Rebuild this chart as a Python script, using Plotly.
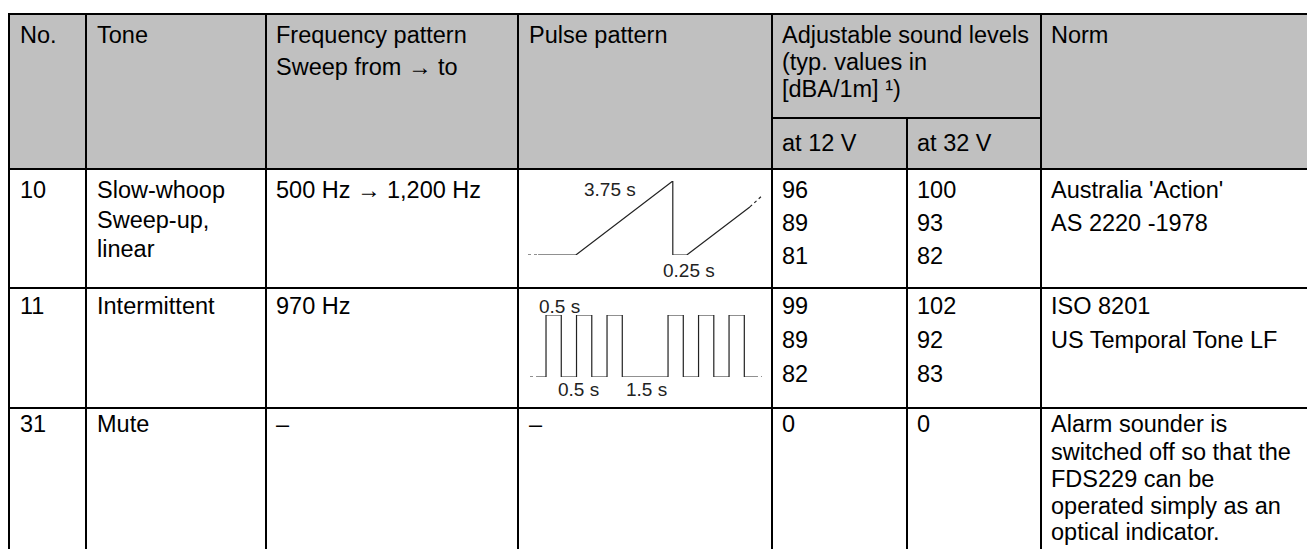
import plotly.graph_objects as go

# ---------------- data ----------------
header_cols = ["No.", "Tone", "Frequency pattern", "Pulse pattern",
               "Adjustable sound levels", "Norm"]
header_col2_line2 = "Sweep from \u2192 to"
header_col4_lines = ["(typ. values in", "[dBA/1m] \u00b9)"]
sub_headers = ["at 12 V", "at 32 V"]

tone_nos = ["10", "11", "31"]
tone_names = [["Slow-whoop", "Sweep-up,", "linear"], ["Intermittent"], ["Mute"]]
freq_patterns = ["500 Hz \u2192 1,200 Hz", "970 Hz", "\u2013"]
pulse_text = ["", "", "\u2013"]
levels_12v = [["96", "89", "81"], ["99", "89", "82"], ["0"]]
levels_32v = [["100", "93", "82"], ["102", "92", "83"], ["0"]]
norms = [["Australia 'Action'", "AS 2220 -1978"],
         ["ISO 8201", "US Temporal Tone LF"],
         ["Alarm sounder is", "switched off so that the", "FDS229 can be",
          "operated simply as an", "optical indicator."]]

# slow-whoop schematic (drawing units, normalised level)
sweep_lead_t = [0.0, 0.39]
sweep_t = [0.39, 1.85, 5.60, 5.60, 6.14, 8.58]
sweep_lvl = [0.0, 0.0, 1.0, 0.0, 0.0, 0.65]
sweep_tail_t = [8.58, 9.05]
sweep_tail_lvl = [0.65, 0.80]
sweep_labels = ["3.75 s", "0.25 s"]

# intermittent (ISO 8201 temporal) pattern, seconds: on/off durations
temporal_durations = [0.5, 0.5, 0.5, 0.5, 0.5, 1.5, 0.5, 0.5, 0.5, 0.5, 0.5]
temporal_labels = ["0.5 s", "0.5 s", "1.5 s"]

# ---------------- layout geometry (pixels) ----------------
W, H = 1307, 549
col_x = [9, 86, 266, 518, 772, 907, 1041]
top_y, sub_y, head_y = 14, 118, 169
row_y = [169, 288, 408]
FONT = "Liberation Sans, Arial, sans-serif"
BLACK = "#000000"
GREY = "#c0c0c0"
FS = 23.5

fig = go.Figure()

shapes = []
shapes.append(dict(type="rect", xref="x", yref="y", x0=col_x[0], x1=W + 2, y0=top_y, y1=head_y,
                   fillcolor=GREY, line=dict(width=0), layer="below"))
for yy in [top_y, head_y, row_y[1], row_y[2]]:
    shapes.append(dict(type="line", xref="x", yref="y", x0=col_x[0] - 1, x1=W + 2, y0=yy, y1=yy,
                       line=dict(color=BLACK, width=2)))
shapes.append(dict(type="line", xref="x", yref="y", x0=col_x[4], x1=col_x[6], y0=sub_y, y1=sub_y,
                   line=dict(color=BLACK, width=2)))
for i, xx in enumerate(col_x):
    y0 = sub_y if i == 5 else top_y - 1
    shapes.append(dict(type="line", xref="x", yref="y", x0=xx, x1=xx, y0=y0, y1=H + 2,
                       line=dict(color=BLACK, width=2)))

ann = []


def txt(x, y, s, size=FS):
    ann.append(dict(x=x, y=y, xref="x", yref="y", text=s, showarrow=False,
                    xanchor="left", yanchor="middle",
                    font=dict(family=FONT, size=size, color=BLACK)))


H1, H2 = 35, 67
col_text_x = [18, 95, 274, 527, 780, 915, 1049]
for i, s in enumerate(header_cols):
    cx = col_text_x[i] if i < 5 else col_text_x[6]
    txt(cx, H1, s)
txt(col_text_x[2], H2, header_col2_line2)
txt(col_text_x[4], 62, header_col4_lines[0])
txt(col_text_x[4], 89, header_col4_lines[1])
txt(col_text_x[4], 143, sub_headers[0])
txt(col_text_x[5], 143, sub_headers[1])

first_line = [190, 306, 424]
num_step = [33, 34, 0]
tone_line_y = [[190, 220, 249], [306], [424]]
norm_line_y = [[190, 223], [306, 340], [424, 452, 479, 506, 532]]
for r in range(3):
    y0 = first_line[r]
    txt(col_text_x[0], y0, tone_nos[r])
    for s, yy in zip(tone_names[r], tone_line_y[r]):
        txt(col_text_x[1], yy, s)
    txt(col_text_x[2], y0, freq_patterns[r])
    if pulse_text[r]:
        txt(col_text_x[3], y0, pulse_text[r])
    for k, s in enumerate(levels_12v[r]):
        txt(col_text_x[4], y0 + k * num_step[r], s)
    for k, s in enumerate(levels_32v[r]):
        txt(col_text_x[5], y0 + k * num_step[r], s)
    for s, yy in zip(norms[r], norm_line_y[r]):
        txt(col_text_x[6], yy, s)


def lab(x, y, s):
    ann.append(dict(x=x, y=y, xref="x", yref="y", text=s, showarrow=False,
                    xanchor="center", yanchor="middle",
                    font=dict(family=FONT, size=19, color="#222222")))


lab(610, 189, sweep_labels[0])
lab(689, 270, sweep_labels[1])
lab(559, 306, temporal_labels[0])
lab(578, 389, temporal_labels[1])
lab(646, 389, temporal_labels[2])

# ---------------- waveforms ----------------
WAVE = "#222222"
fig.add_trace(go.Scatter(x=sweep_lead_t, y=[0, 0], mode="lines", xaxis="x2", yaxis="y2",
                         line=dict(color=WAVE, width=1.2, dash="dot"), hoverinfo="skip"))
fig.add_trace(go.Scatter(x=sweep_t, y=sweep_lvl, mode="lines", xaxis="x2", yaxis="y2",
                         line=dict(color=WAVE, width=1.2), hoverinfo="skip"))
fig.add_trace(go.Scatter(x=sweep_tail_t, y=sweep_tail_lvl, mode="lines", xaxis="x2", yaxis="y2",
                         line=dict(color=WAVE, width=1.2, dash="dot"), hoverinfo="skip"))

tt, lv = [-0.3, 0.0], [0, 0]
t, on = 0.0, True
for d in temporal_durations:
    lv_now = 1 if on else 0
    tt += [t, t + d]
    lv += [lv_now, lv_now]
    t += d
    on = not on
tt += [t, 6.85]
lv += [0, 0]
fig.add_trace(go.Scatter(x=[-0.525, -0.3], y=[0, 0], mode="lines", xaxis="x3", yaxis="y3",
                         line=dict(color=WAVE, width=1.2, dash="dot"), hoverinfo="skip"))
fig.add_trace(go.Scatter(x=tt, y=lv, mode="lines", xaxis="x3", yaxis="y3",
                         line=dict(color=WAVE, width=1.2), hoverinfo="skip"))
fig.add_trace(go.Scatter(x=[6.85, 7.08], y=[0, 0], mode="lines", xaxis="x3", yaxis="y3",
                         line=dict(color=WAVE, width=1.2, dash="dot"), hoverinfo="skip"))


def dom_x(a, b):
    return [a / W, b / W]


def dom_y(top, bottom):
    return [1 - bottom / H, 1 - top / H]


hidden = dict(visible=False, showgrid=False, zeroline=False, fixedrange=True)
fig.update_layout(
    width=W, height=H, margin=dict(l=0, r=0, t=0, b=0),
    paper_bgcolor="white", plot_bgcolor="rgba(0,0,0,0)", showlegend=False,
    xaxis=dict(range=[0, W], domain=[0, 1], **hidden),
    yaxis=dict(range=[H, 0], domain=[0, 1], **hidden),
    xaxis2=dict(range=[0, 9.05], domain=dom_x(528, 762), anchor="y2", **hidden),
    yaxis2=dict(range=[0, 1], domain=dom_y(181, 255), anchor="x2", **hidden),
    xaxis3=dict(range=[-0.525, 7.08], domain=dom_x(530, 762), anchor="y3", **hidden),
    yaxis3=dict(range=[0, 1], domain=dom_y(315, 377), anchor="x3", **hidden),
    shapes=shapes, annotations=ann,
)

fig.write_html("out.html", config={"displayModeBar": False, "staticPlot": True},
               post_script="document.body.style.margin='0px';document.body.style.overflow='hidden';")
